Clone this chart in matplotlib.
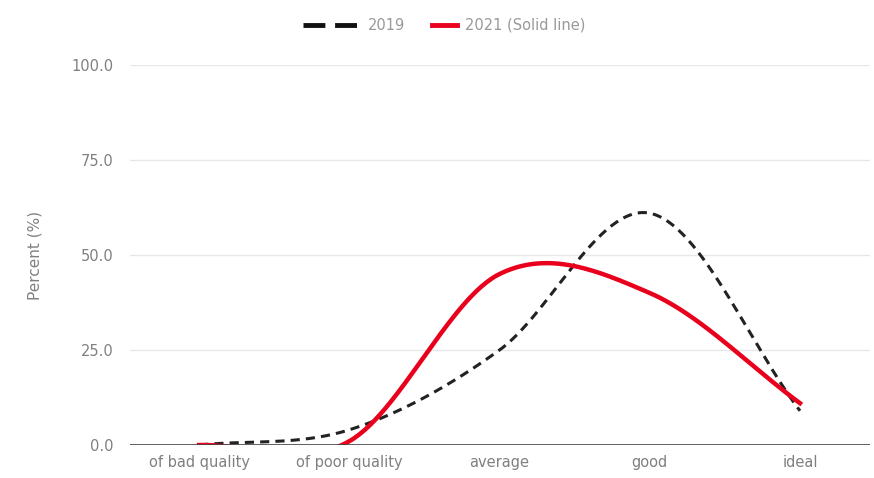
import numpy as np
import matplotlib.pyplot as plt
from matplotlib.lines import Line2D

categories = ["of bad quality", "of poor quality", "average", "good", "ideal"]
values_2019 = [0.0, 4.0, 25.0, 61.0, 9.0]
values_2021 = [0.0, 1.0, 45.0, 40.0, 11.0]
yticks = [0, 25, 50, 75, 100]
series_names = ["2019", "2021 (Solid line)"]

W, H = 874, 478


def smooth(xs, ys, n=60):
    # hermite / catmull-rom through the points
    xs = np.asarray(xs, float)
    ys = np.asarray(ys, float)
    m = np.gradient(ys, xs)
    outx, outy = [], []
    for i in range(len(xs) - 1):
        t = np.linspace(0, 1, n)
        h = xs[i + 1] - xs[i]
        h00 = 2 * t**3 - 3 * t**2 + 1
        h10 = t**3 - 2 * t**2 + t
        h01 = -2 * t**3 + 3 * t**2
        h11 = t**3 - t**2
        outx.append(xs[i] + t * h)
        outy.append(h00 * ys[i] + h10 * h * m[i] + h01 * ys[i + 1] + h11 * h * m[i + 1])
    return np.concatenate(outx), np.concatenate(outy)


fig = plt.figure(figsize=(W / 100, H / 100), dpi=100)
ax = fig.add_axes([130 / W, 1 - 445 / H, 740 / W, 380 / H])

x = np.arange(len(categories))
sx, sy = smooth(x, values_2019)
ax.plot(sx, sy, color="#222222", lw=2.2, dashes=(3, 2), zorder=3)
sx, sy = smooth(x, values_2021)
ax.plot(sx, sy, color="#e8001c", lw=3.2, zorder=4)

ax.set_xlim(-0.46, 4.466)
ax.set_ylim(0, 100)
ax.set_yticks(yticks)
ax.set_yticklabels([f"{v:.1f}" for v in yticks])
ax.set_xticks(x)
ax.set_xticklabels(categories)
ax.tick_params(length=0, colors="#808080", labelsize=10.5)
ax.tick_params(axis="y", pad=12)
ax.tick_params(axis="x", pad=7)
for v in yticks[1:]:
    ax.axhline(v, color="#e8e8e8", lw=1, zorder=1)
ax.axhline(0, color="#444444", lw=1.2, zorder=5)
for s in ax.spines.values():
    s.set_visible(False)

ax.set_ylabel("Percent (%)", color="#808080", fontsize=11)
ax.yaxis.set_label_coords(-(130 - 42) / 740, 0.5)

# legend drawn by hand so the two keys can have different lengths
ly = 1 - 25 / H
fig.add_artist(Line2D([303 / W, 358 / W], [ly, ly], color="#111111", lw=3.5,
                      dashes=(4.5, 2)))
fig.text(368 / W, ly, series_names[0], color="#999999", fontsize=10.5, va="center")
fig.add_artist(Line2D([432 / W, 457 / W], [ly, ly], color="#e8001c", lw=3.5))
fig.text(465 / W, ly, series_names[1], color="#999999", fontsize=10.5, va="center")

fig.savefig("out.png", dpi=100)
